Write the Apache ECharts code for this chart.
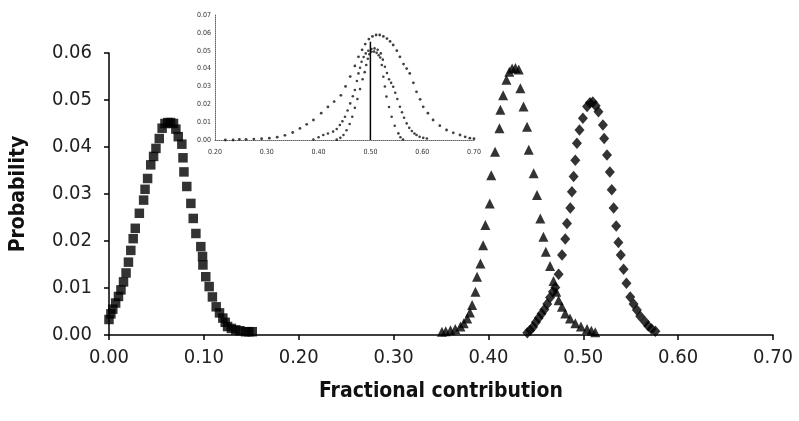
<!DOCTYPE html>
<html>
<head>
<meta charset="utf-8">
<script src="https://cdn.jsdelivr.net/npm/echarts@6/dist/echarts.min.js"></script>
<style>
html,body{margin:0;padding:0;background:#fff;}
#chart{width:799px;height:421px;}
</style>
</head>
<body>
<div id="chart"></div>
<script>
// ---- Main chart data (fractional contribution vs probability) ----
var squareX = [0.000,0.002,0.004,0.007,0.010,0.0126,0.0153,0.018,0.0205,0.023,0.0255,0.0277,0.032,0.0365,0.038,0.0407,0.044,0.047,0.0495,0.053,0.056,0.059,0.062,0.065,0.068,0.0705,0.073,0.0768,0.078,0.079,0.082,0.0863,0.0888,0.0916,0.0968,0.0986,0.099,0.102,0.1056,0.109,0.113,0.1165,0.120,0.1225,0.125,0.129,0.1337,0.138,0.144,0.1475,0.151];
var squareY = [0.0033,0.0045,0.0055,0.0068,0.0082,0.0096,0.0113,0.0132,0.0155,0.0180,0.0205,0.0227,0.0259,0.0287,0.0310,0.0333,0.0362,0.0380,0.0397,0.0418,0.0440,0.0450,0.0452,0.0452,0.0450,0.0438,0.0422,0.0406,0.0377,0.0347,0.0316,0.0280,0.0248,0.0216,0.0188,0.0167,0.0149,0.0124,0.0103,0.0081,0.0060,0.0047,0.0036,0.0027,0.0018,0.0014,0.0011,0.0009,0.0007,0.0007,0.0007];

var triX = [0.351,0.355,0.360,0.365,0.3705,0.374,0.3776,0.3805,0.3828,0.3863,0.388,0.3916,0.3944,0.3968,0.4014,0.403,0.407,0.4116,0.4126,0.4155,0.419,0.422,0.425,0.4285,0.432,0.4337,0.437,0.4407,0.4425,0.4477,0.4512,0.4547,0.458,0.4605,0.465,0.4686,0.4715,0.474,0.4775,0.481,0.486,0.4916,0.4975,0.504,0.5085,0.5126];
var triY = [0.0007,0.0008,0.0010,0.0013,0.0018,0.0025,0.0035,0.0048,0.0064,0.0092,0.0124,0.0152,0.0191,0.0234,0.0280,0.0340,0.0390,0.0440,0.0479,0.0510,0.0543,0.0560,0.0567,0.0568,0.0565,0.0525,0.0486,0.0443,0.0394,0.0344,0.0298,0.0248,0.0209,0.0177,0.0147,0.0115,0.0092,0.0074,0.0060,0.0046,0.0035,0.0025,0.0018,0.0013,0.0009,0.0006];

var diaX = [0.441,0.444,0.447,0.450,0.453,0.456,0.459,0.462,0.465,0.468,0.4705,0.474,0.4776,0.481,0.4828,0.4863,0.488,0.4898,0.4916,0.4933,0.496,0.4996,0.504,0.507,0.510,0.513,0.516,0.5207,0.522,0.525,0.528,0.530,0.532,0.5347,0.537,0.5395,0.5425,0.5455,0.5495,0.553,0.5565,0.560,0.565,0.5685,0.572,0.576];
var diaY = [0.0005,0.0010,0.0017,0.0027,0.0036,0.0045,0.0054,0.0066,0.0080,0.0092,0.0101,0.0129,0.0170,0.0204,0.0237,0.0270,0.0305,0.0337,0.0372,0.0408,0.0436,0.0461,0.0486,0.0494,0.0496,0.0488,0.0475,0.0447,0.0418,0.0383,0.0347,0.0309,0.0270,0.0232,0.0197,0.0170,0.0140,0.0110,0.0081,0.0066,0.0053,0.0040,0.0028,0.0019,0.0013,0.0008];

// ---- Inset data ----
var insetAX = [0.22,0.235,0.247,0.26,0.275,0.29,0.305,0.32,0.335,0.35,0.364,0.377,0.39,0.405,0.418,0.43,0.443,0.452,0.461,0.47,0.477,0.484,0.49,0.497,0.504,0.511,0.518,0.525,0.532,0.538,0.544,0.551,0.557,0.564,0.570,0.576,0.583,0.589,0.596,0.602,0.611,0.621,0.634,0.647,0.66,0.673,0.683,0.692,0.70];
var insetAY = [0,0,0.0003,0.0004,0.0005,0.0007,0.0010,0.0016,0.0026,0.0042,0.0065,0.0088,0.0112,0.0150,0.0185,0.0215,0.0250,0.0300,0.0355,0.0415,0.0466,0.0505,0.0537,0.0565,0.0580,0.0588,0.0588,0.0580,0.0568,0.0552,0.0532,0.0500,0.0466,0.0425,0.0400,0.0373,0.0320,0.0270,0.0228,0.0186,0.0150,0.0112,0.0080,0.0056,0.0040,0.0028,0.0018,0.0010,0.0007];

var insetBX = [0.39,0.40,0.409,0.418,0.428,0.435,0.441,0.446,0.451,0.456,0.461,0.466,0.47,0.474,0.477,0.480,0.483,0.487,0.491,0.496,0.502,0.508,0.514,0.520,0.524,0.528,0.532,0.536,0.540,0.544,0.548,0.552,0.557,0.561,0.565,0.570,0.575,0.580,0.585,0.589,0.595,0.602,0.609];
var insetBY = [0.0003,0.0015,0.0028,0.0036,0.0047,0.0062,0.0084,0.0105,0.0130,0.0165,0.0205,0.0245,0.0280,0.0330,0.0373,0.0405,0.0438,0.0465,0.0485,0.0500,0.0510,0.0513,0.0505,0.0485,0.0450,0.0410,0.0375,0.0340,0.0320,0.0298,0.0265,0.0230,0.0186,0.0155,0.0125,0.0093,0.0068,0.0050,0.0036,0.0028,0.0018,0.0012,0.0008];

var insetCX = [0.435,0.442,0.448,0.454,0.46,0.465,0.47,0.475,0.48,0.485,0.489,0.492,0.495,0.498,0.502,0.507,0.512,0.516,0.519,0.522,0.525,0.528,0.531,0.536,0.541,0.547,0.554,0.558,0.563];
var insetCY = [0.0002,0.0012,0.0028,0.0055,0.0090,0.0130,0.0180,0.0230,0.0285,0.0340,0.0380,0.0420,0.0455,0.0480,0.0494,0.0495,0.0488,0.0475,0.0462,0.0420,0.0354,0.0300,0.0243,0.0185,0.0130,0.0080,0.0037,0.0015,0.0003];

var insetLineX = [0.50,0.50];
var insetLineY = [0,0.055];

function pairs(xs, ys){ return xs.map(function(x,i){ return [x, ys[i]]; }); }

var FONT = "'Liberation Sans Narrow','DejaVu Sans Condensed','Arial Narrow',sans-serif";
var chart = echarts.init(document.getElementById('chart'), null, {renderer:'canvas'});

var option = {
  backgroundColor: '#ffffff',
  animation: false,
  grid: [
    {left:108, right:26, top:53, bottom:86, containLabel:false},
    {left:215, width:259, top:15, height:125, containLabel:false}
  ],
  xAxis: [
    {
      gridIndex:0, type:'value', min:0, max:0.7, interval:0.1,
      name:'Fractional contribution', nameLocation:'middle', nameGap:46,
      nameTextStyle:{fontFamily:FONT, fontSize:21, fontWeight:'bold', color:'#111'},
      axisLine:{show:true, onZero:false, lineStyle:{color:'#000', width:1.5}},
      axisTick:{show:true, inside:false, length:5, lineStyle:{color:'#000', width:1.5}},
      axisLabel:{margin:13, fontFamily:FONT, fontSize:20, color:'#222', formatter:function(v){return v.toFixed(2);}},
      splitLine:{show:false}
    },
    {
      gridIndex:1, type:'value', min:0.2, max:0.7, interval:0.1,
      axisLine:{show:true, onZero:false, lineStyle:{color:'#666', width:1, type:'dotted'}},
      axisTick:{show:false},
      axisLabel:{margin:9, fontFamily:FONT, fontSize:7, color:'#333', formatter:function(v){return v.toFixed(2);}},
      splitLine:{show:false}
    }
  ],
  yAxis: [
    {
      gridIndex:0, type:'value', min:0, max:0.06, interval:0.01,
      name:'Probability', nameLocation:'middle', nameGap:80, nameRotate:90,
      nameTextStyle:{fontFamily:FONT, fontSize:21, fontWeight:'bold', color:'#111'},
      axisLine:{show:true, onZero:false, lineStyle:{color:'#000', width:1.5}},
      axisTick:{show:true, inside:false, length:5, lineStyle:{color:'#000', width:1.5}},
      axisLabel:{margin:17, fontFamily:FONT, fontSize:20, color:'#222', formatter:function(v){return v.toFixed(2);}},
      splitLine:{show:false}
    },
    {
      gridIndex:1, type:'value', min:0, max:0.07, interval:0.01,
      axisLine:{show:true, onZero:false, lineStyle:{color:'#666', width:1, type:'dotted'}},
      axisTick:{show:false},
      axisLabel:{margin:4, fontFamily:FONT, fontSize:7, color:'#333', formatter:function(v){return v.toFixed(2);}},
      splitLine:{show:false}
    }
  ],
  series: [
    {name:'squares', type:'scatter', xAxisIndex:0, yAxisIndex:0, symbol:'rect', symbolSize:9.5,
     itemStyle:{color:'#000'}, data:pairs(squareX, squareY)},
    {name:'triangles', type:'scatter', xAxisIndex:0, yAxisIndex:0, symbol:'triangle', symbolSize:[10,10],
     itemStyle:{color:'#000'}, data:pairs(triX, triY)},
    {name:'diamonds', type:'scatter', xAxisIndex:0, yAxisIndex:0, symbol:'diamond', symbolSize:[10,11.5],
     itemStyle:{color:'#000'}, data:pairs(diaX, diaY)},
    {name:'insetA', type:'scatter', xAxisIndex:1, yAxisIndex:1, symbol:'circle', symbolSize:2.8,
     itemStyle:{color:'#111'}, data:pairs(insetAX, insetAY)},
    {name:'insetB', type:'scatter', xAxisIndex:1, yAxisIndex:1, symbol:'circle', symbolSize:2.6,
     itemStyle:{color:'#111'}, data:pairs(insetBX, insetBY)},
    {name:'insetC', type:'scatter', xAxisIndex:1, yAxisIndex:1, symbol:'circle', symbolSize:2.6,
     itemStyle:{color:'#111'}, data:pairs(insetCX, insetCY)},
    {name:'insetLine', type:'line', xAxisIndex:1, yAxisIndex:1, symbol:'none',
     lineStyle:{color:'#000', width:1.5}, data:pairs(insetLineX, insetLineY)}
  ]
};
chart.setOption(option);
</script>
</body>
</html>
